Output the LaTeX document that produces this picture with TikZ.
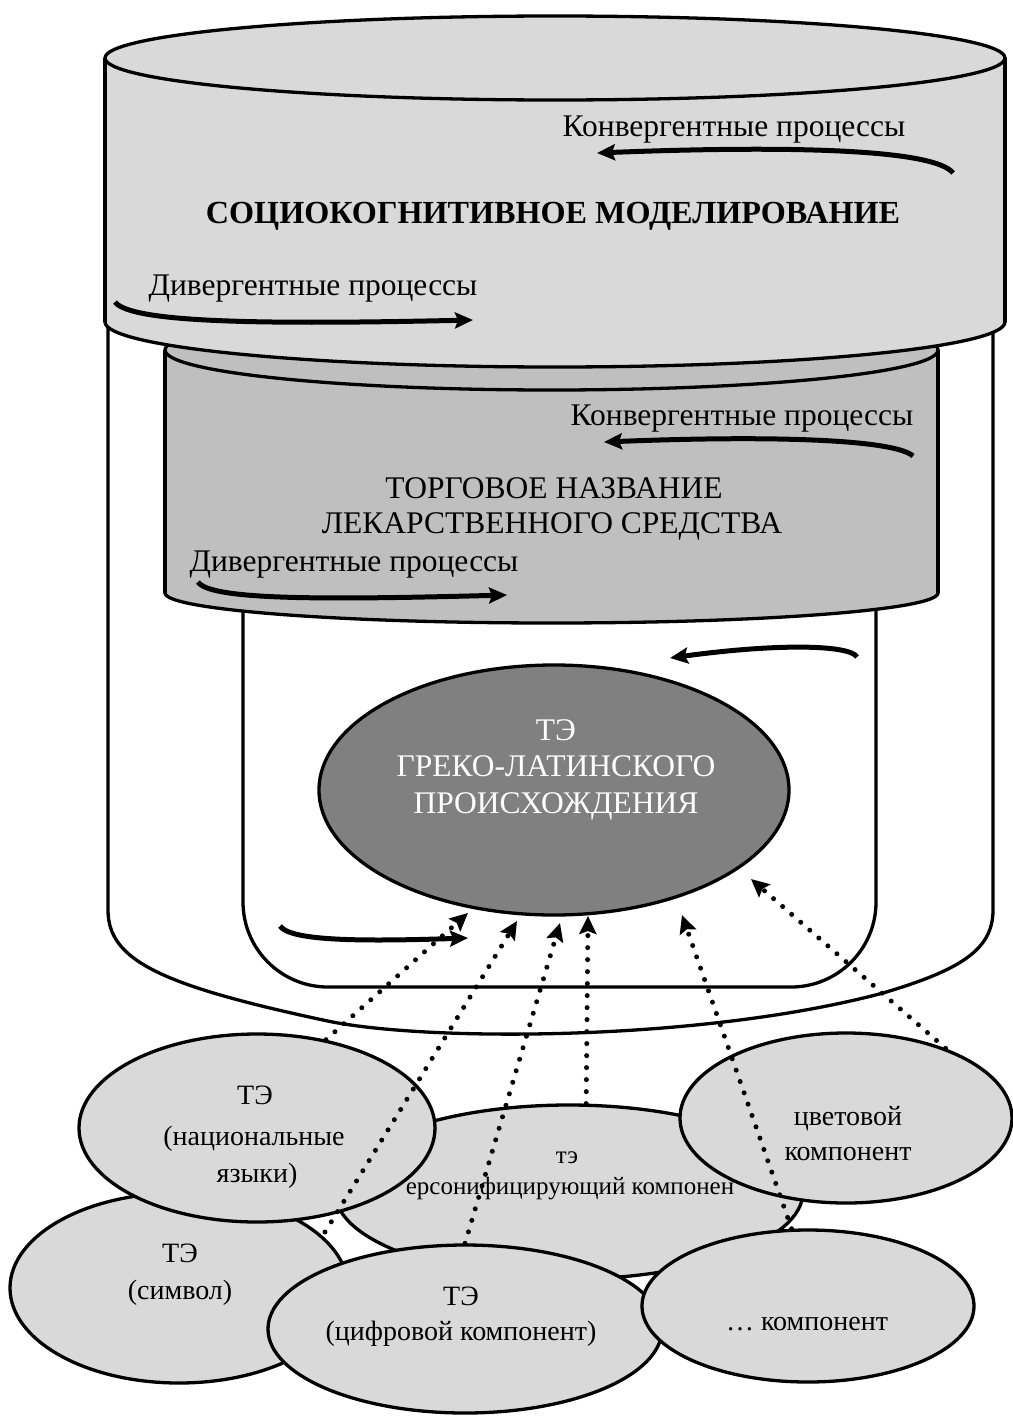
\documentclass[tikz,border=0pt]{standalone}
\usepackage{fontspec}
\setmainfont{Liberation Serif}
\usetikzlibrary{arrows.meta,shapes.geometric}
\definecolor{lightg}{HTML}{D9D9D9}
\definecolor{midg}{HTML}{BFBFBF}
\definecolor{darkg}{HTML}{808080}
\begin{document}
\begin{tikzpicture}[x=1pt,y=-1pt,
  outline/.style={draw=black,line width=3.3pt},
  lbl/.style={font=\fontsize{31.5}{37}\selectfont, inner sep=0pt, text height=0.68em, text depth=0.18em, yshift=-6pt},
  sml/.style={font=\fontsize{28}{34}\selectfont, inner sep=0pt, text height=0.68em, text depth=0.18em, yshift=-5pt},
  tny/.style={font=\fontsize{25}{30}\selectfont, inner sep=0pt, text height=0.68em, text depth=0.18em, yshift=-4pt},
  oval/.style={ellipse, outline, fill=lightg, inner sep=0pt},
  flow/.style={line width=5pt, -{Stealth[length=18pt,width=16pt,inset=3pt]}},
  dotarrow/.style={line width=5pt, line cap=round, dash pattern=on 0pt off 12pt, -{Stealth[length=18pt,width=17pt,inset=3pt]}},
]
\useasboundingbox (0,0) rectangle (1012,1416);

% outer white container
\path[outline, fill=white] (108,300) -- (108,910)
  .. controls (108,960) and (160,985) .. (323,1020)
  .. controls (420,1042) and (700,1042) .. (883,993)
  .. controls (960,970) and (993,950) .. (993,910) -- (993,300);

% inner white container
\path[outline, fill=white, rounded corners=85pt] (243,560) -- (243,987) -- (876,987) -- (876,560);

% middle cylinder
\path[outline, fill=midg] (551.5,593) ellipse [x radius=386.5pt, y radius=30pt];
\fill[midg] (165,350) rectangle (938,593);
\draw[outline] (165,350) -- (165,593) (938,350) -- (938,593);
\path[outline, fill=midg] (551.5,350) ellipse [x radius=386.5pt, y radius=40pt];

% top cylinder
\path[outline, fill=lightg] (555,322) ellipse [x radius=450pt, y radius=45pt];
\fill[lightg] (105,58) rectangle (1005,322);
\draw[outline] (105,58) -- (105,322) (1005,58) -- (1005,322);
\path[outline, fill=lightg] (555,58) ellipse [x radius=450pt, y radius=42pt];

% texts of cylinders
\node[lbl] (t1) at (734,128) {Конвергентные процессы};
\node[lbl, font=\fontsize{32.2}{37}\selectfont\bfseries] (t2) at (553,215) {СОЦИОКОГНИТИВНОЕ МОДЕЛИРОВАНИЕ};
\node[lbl] (t3) at (313,287) {Дивергентные процессы};
\node[lbl] (m1) at (742,417) {Конвергентные процессы};
\node[lbl] (m2) at (554,490) {ТОРГОВОЕ НАЗВАНИЕ};
\node[lbl] (m3) at (552,525) {ЛЕКАРСТВЕННОГО СРЕДСТВА};
\node[lbl] (m4) at (354,563) {Дивергентные процессы};

% central ellipse
\node[ellipse, outline, fill=darkg, minimum width=470pt, minimum height=250pt, inner sep=0pt] (ctr) at (554,790) {};
\node[lbl, text=white] (c1) at (556,732) {ТЭ};
\node[lbl, text=white] (c2) at (556,768) {ГРЕКО-ЛАТИНСКОГО};
\node[lbl, text=white] (c3) at (556,805) {ПРОИСХОЖДЕНИЯ};

% curved process arrows
\coordinate (ca1) at (953,173); \coordinate (cb1) at (597,153);
\coordinate (da1) at (115,302); \coordinate (db1) at (473,320);
\coordinate (ca2) at (913,456); \coordinate (cb2) at (604,442);
\coordinate (da2) at (198,582); \coordinate (db2) at (507,595);
\coordinate (ca3) at (857,657); \coordinate (cb3) at (670,658);
\coordinate (da3) at (280,926); \coordinate (db3) at (468,938);
\draw[flow] (ca1) .. controls (935,150) and (800,145) .. (cb1);
\draw[flow] (da1) .. controls (130,322) and (250,325) .. (db1);
\draw[flow] (ca2) .. controls (895,440) and (780,435) .. (cb2);
\draw[flow] (da2) .. controls (210,600) and (320,600) .. (db2);
\draw[flow] (ca3) .. controls (850,645) and (780,643) .. (cb3);
\draw[flow] (da3) .. controls (290,940) and (350,942) .. (db3);

% bottom ellipses
\node[oval, minimum width=468pt, minimum height=174pt] (pers) at (569,1192) {};
\node[tny] (p1) at (567,1157) {тэ};
\node[tny] (p2) at (570,1188) {ерсонифицирующий компонен};

\node[oval, minimum width=338pt, minimum height=190pt] (sym) at (179,1288) {};
\node[sml] (s1) at (180,1255) {ТЭ};
\node[sml] (s2) at (180,1292) {(символ)};

\node[oval, minimum width=356pt, minimum height=188pt] (nat) at (257,1128) {};
\node[sml] (n1) at (255,1097) {ТЭ};
\node[sml] (n2) at (254,1138) {(национальные};
\node[sml] (n3) at (257,1175) {языки)};

\node[oval, minimum width=332pt, minimum height=170pt] (clr) at (846,1118) {};
\node[sml] (k1) at (848,1118) {цветовой};
\node[sml] (k2) at (848,1153) {компонент};

\node[oval, minimum width=394pt, minimum height=168pt] (cif) at (465,1329) {};
\node[sml] (f1) at (461,1298) {ТЭ};
\node[sml] (f2) at (461,1333) {(цифровой компонент)};

\node[oval, minimum width=332pt, minimum height=152pt] (dts) at (808,1306) {};
\node[sml] (d1) at (807,1323) {… компонент};

% dotted arrows
\coordinate (g2) at (325,1232);
\coordinate (e1) at (468,913);
\coordinate (e2) at (517,921);
\coordinate (e3) at (560,923);
\coordinate (e4) at (588,916);
\coordinate (e5) at (682,915);
\coordinate (e6) at (751,879);
\draw[dotarrow] (nat.52) -- (e1);
\draw[dotarrow] (g2) -- (e2);
\draw[dotarrow] (cif.north) -- (e3);
\draw[dotarrow] (pers.79) -- (e4);
\draw[dotarrow] (dts.102) -- (e5);
\draw[dotarrow] (clr.35) -- (e6);
\end{tikzpicture}
\end{document}
